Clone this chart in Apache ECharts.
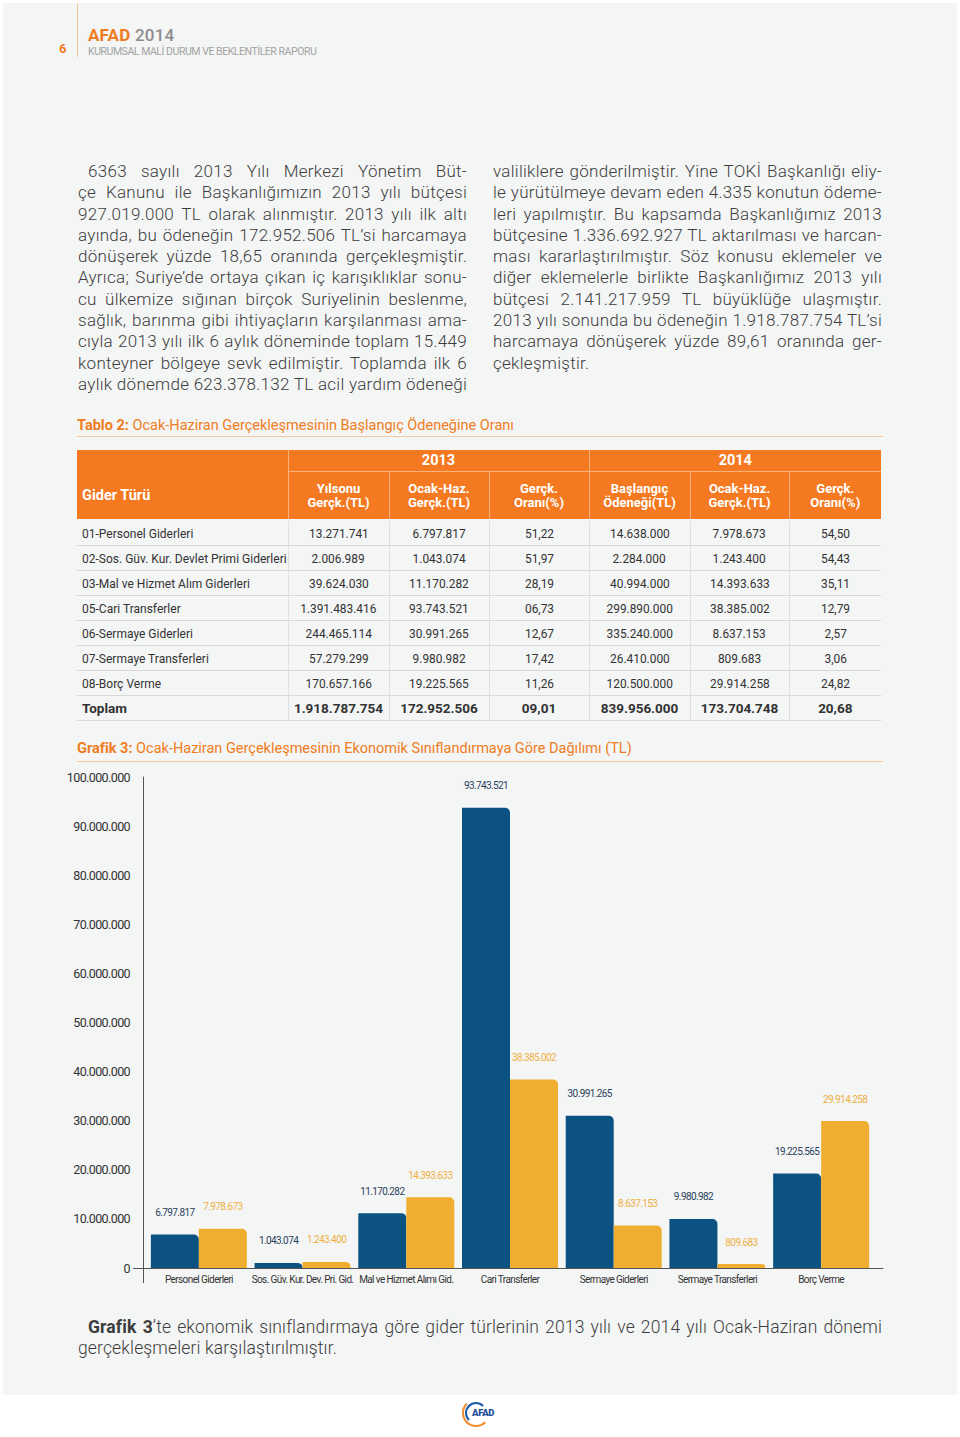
<!DOCTYPE html>
<html lang="tr">
<head>
<meta charset="utf-8">
<script src="https://cdn.jsdelivr.net/npm/echarts@6/dist/echarts.min.js"></script>
<style>
  html, body { margin: 0; padding: 0; background: #ffffff; }
  body { width: 960px; height: 1437px; position: relative; overflow: hidden; font-family: Roboto, "Noto Sans", sans-serif; }
  .panel { position: absolute; left: 3px; top: 3px; width: 954px; height: 1392px; background: #f4f5f5; }
  .vline { position: absolute; left: 77px; top: 3px; width: 1px; height: 54px; background: #f0c49a; }
  .pno { position: absolute; left: 59px; top: 41px; font-size: 13px; font-weight: 700; color: #f07c22; }
  .brand { position: absolute; left: 88px; top: 25px; font-size: 17px; font-weight: 700; color: #f07c22; letter-spacing: 0.2px; }
  .brand span { color: #8c8c8c; font-weight: 500; }
  .sub { position: absolute; left: 88px; top: 45px; font-size: 10.5px; color: #a3a3a3; font-weight: 400; letter-spacing: -0.45px; }
  .col { position: absolute; width: 389px; font-size: 17px; line-height: 21.3px; color: #3d3d3d; font-weight: 300; letter-spacing: 0.28px; }
  .col div { text-align: justify; text-align-last: justify; white-space: nowrap; }
  .col div.last { text-align-last: left; }
  .cap { position: absolute; left: 77px; font-size: 14.5px; color: #f07c22; font-weight: 400; }
  .cap b { font-weight: 700; }
  .capline { position: absolute; left: 77px; width: 806px; height: 1px; background: #f3c9a2; }
  table.t { position: absolute; left: 77px; top: 450px; border-collapse: collapse; table-layout: fixed; width: 804px;
            font-family: Roboto, sans-serif; font-size: 13.5px; color: #333; }
  table.t th { background: #f47920; color: #fff; font-weight: 700; border-left: 1px solid #f8b27a; padding: 0; }
  table.t th.first { text-align: left; padding-left: 5px; border-left: none; vertical-align: middle; padding-top: 21px; }
  table.t tr.h1 th { height: 21px; font-size: 14.5px; }
  table.t tr.h2 th { height: 47px; font-size: 13px; line-height: 14px; border-top: 1px solid #f8b27a; }
  table.t tr.gap td { height: 2px; padding: 0; border: none; }
  table.t td { height: 24px; padding: 0; text-align: center; border-bottom: 1px solid #d8d8d8; border-left: 1px solid #e0e0e0; white-space: nowrap; overflow: visible; }
  table.t td.first { text-align: left; padding-left: 5px; border-left: none; }
  table.t td span { display: inline-block; transform: scaleX(0.88); transform-origin: 50% 50%; }
  table.t td.first span { transform: scaleX(0.89); transform-origin: 0 50%; font-size: 13.5px; }
  table.t tr.tot td span { transform: none; font-weight: 700; }
  table.t tr.tot td.first span { transform: none; font-size: 13.5px; }
  #chart { position: absolute; left: 0; top: 765px; width: 960px; height: 530px; }
  #chart text { letter-spacing: -0.6px; }
  .bottom { position: absolute; left: 78px; top: 1317px; width: 804px; font-size: 17.5px; line-height: 21.3px; color: #3d3d3d; font-weight: 300; letter-spacing: 0.15px; }
  .bottom div { text-align: justify; text-align-last: justify; white-space: nowrap; }
  .bottom div.last { text-align-last: left; }
  .bottom b { font-weight: 700; }
  .logo { position: absolute; left: 462px; top: 1399px; width: 34px; height: 30px; }
  .logo .a1 { position: absolute; left: 0; top: 0; width: 28px; height: 28px; border-radius: 50%; border: 2px solid transparent; border-left-color: #f08a2a; border-bottom-color: #f08a2a; box-sizing: border-box; }
  .logo .a2 { position: absolute; left: 3px; top: 3px; width: 22px; height: 22px; border-radius: 50%; border: 2px solid transparent; border-left-color: #1d5ca8; border-top-color: #1d5ca8; box-sizing: border-box; }
  .logo .tx { position: absolute; left: 10px; top: 8px; font-size: 9.5px; font-weight: 900; color: #1d4f9c; letter-spacing: -0.3px; }
</style>
</head>
<body>
<div class="panel"></div>
<div class="vline"></div>
<div class="pno">6</div>
<div class="brand">AFAD <span>2014</span></div>
<div class="sub">KURUMSAL MALİ DURUM VE BEKLENTİLER RAPORU</div>

<div class="col" style="left:78px; top:161px;">
  <div style="padding-left:10px;">6363 sayılı 2013 Yılı Merkezi Yönetim Büt-</div>
  <div>çe Kanunu ile Başkanlığımızın 2013 yılı bütçesi</div>
  <div>927.019.000 TL olarak alınmıştır. 2013 yılı ilk altı</div>
  <div>ayında, bu ödeneğin 172.952.506 TL’si harcamaya</div>
  <div>dönüşerek yüzde 18,65 oranında gerçekleşmiştir.</div>
  <div>Ayrıca; Suriye’de ortaya çıkan iç karışıklıklar sonu-</div>
  <div>cu ülkemize sığınan birçok Suriyelinin beslenme,</div>
  <div>sağlık, barınma gibi ihtiyaçların karşılanması ama-</div>
  <div>cıyla 2013 yılı ilk 6 aylık döneminde toplam 15.449</div>
  <div>konteyner bölgeye sevk edilmiştir. Toplamda ilk 6</div>
  <div>aylık dönemde 623.378.132 TL acil yardım ödeneği</div>
</div>
<div class="col" style="left:493px; top:161px;">
  <div>valiliklere gönderilmiştir. Yine TOKİ Başkanlığı eliy-</div>
  <div>le yürütülmeye devam eden 4.335 konutun ödeme-</div>
  <div>leri yapılmıştır. Bu kapsamda Başkanlığımız 2013</div>
  <div>bütçesine 1.336.692.927 TL aktarılması ve harcan-</div>
  <div>ması kararlaştırılmıştır. Söz konusu eklemeler ve</div>
  <div>diğer eklemelerle birlikte Başkanlığımız 2013 yılı</div>
  <div>bütçesi 2.141.217.959 TL büyüklüğe ulaşmıştır.</div>
  <div>2013 yılı sonunda bu ödeneğin 1.918.787.754 TL’si</div>
  <div>harcamaya dönüşerek yüzde 89,61 oranında ger-</div>
  <div class="last">çekleşmiştir.</div>
</div>

<div class="cap" style="top:417px;"><b>Tablo 2:</b> Ocak-Haziran Gerçekleşmesinin Başlangıç Ödeneğine Oranı</div>
<div class="capline" style="top:436px;"></div>

<table class="t" id="tbl">
  <colgroup>
    <col style="width:211px"><col style="width:101px"><col style="width:100px"><col style="width:100px"><col style="width:101px"><col style="width:99px"><col style="width:92px">
  </colgroup>
  <thead>
    <tr class="h1"><th class="first" rowspan="2">Gider Türü</th><th colspan="3">2013</th><th colspan="3">2014</th></tr>
    <tr class="h2" id="hdr2"></tr>
  </thead>
  <tbody id="tbody"></tbody>
</table>

<div class="cap" style="top:740px;"><b>Grafik 3:</b> Ocak-Haziran Gerçekleşmesinin Ekonomik Sınıflandırmaya Göre Dağılımı (TL)</div>
<div class="capline" style="top:761px;"></div>

<div id="chart"></div>

<div class="bottom">
  <div style="padding-left:10px;"><b>Grafik 3</b>’te ekonomik sınıflandırmaya göre gider türlerinin 2013 yılı ve 2014 yılı Ocak-Haziran dönemi</div>
  <div class="last">gerçekleşmeleri karşılaştırılmıştır.</div>
</div>

<div class="logo"><div class="a1"></div><div class="a2"></div><div class="tx">AFAD</div></div>

<script>
// ---- Table data ----
const tableHeaders = ['Yılsonu<br>Gerçk.(TL)', 'Ocak-Haz.<br>Gerçk.(TL)', 'Gerçk.<br>Oranı(%)', 'Başlangıç<br>Ödeneği(TL)', 'Ocak-Haz.<br>Gerçk.(TL)', 'Gerçk.<br>Oranı(%)'];
const tableRowNames = ['01-Personel Giderleri', '02-Sos. Güv. Kur. Devlet Primi Giderleri', '03-Mal ve Hizmet Alım Giderleri', '05-Cari Transferler', '06-Sermaye Giderleri', '07-Sermaye Transferleri', '08-Borç Verme', 'Toplam'];
const colYilsonu2013 = ['13.271.741', '2.006.989', '39.624.030', '1.391.483.416', '244.465.114', '57.279.299', '170.657.166', '1.918.787.754'];
const colOcakHaz2013 = ['6.797.817', '1.043.074', '11.170.282', '93.743.521', '30.991.265', '9.980.982', '19.225.565', '172.952.506'];
const colOran2013 = ['51,22', '51,97', '28,19', '06,73', '12,67', '17,42', '11,26', '09,01'];
const colBaslangic2014 = ['14.638.000', '2.284.000', '40.994.000', '299.890.000', '335.240.000', '26.410.000', '120.500.000', '839.956.000'];
const colOcakHaz2014 = ['7.978.673', '1.243.400', '14.393.633', '38.385.002', '8.637.153', '809.683', '29.914.258', '173.704.748'];
const colOran2014 = ['54,50', '54,43', '35,11', '12,79', '2,57', '3,06', '24,82', '20,68'];

// ---- Chart data ----
const categories = ['Personel Giderleri', 'Sos. Güv. Kur. Dev. Pri. Gid.', 'Mal ve Hizmet Alımı Gid.', 'Cari Transferler', 'Sermaye Giderleri', 'Sermaye Transferleri', 'Borç Verme'];
const values2013 = [6797817, 1043074, 11170282, 93743521, 30991265, 9980982, 19225565];
const values2014 = [7978673, 1243400, 14393633, 38385002, 8637153, 809683, 29914258];
const yMin = 0, yMax = 100000000, yInterval = 10000000;

// build table
document.getElementById('hdr2').innerHTML = tableHeaders.map(h => '<th>' + h + '</th>').join('');
const cols = [colYilsonu2013, colOcakHaz2013, colOran2013, colBaslangic2014, colOcakHaz2014, colOran2014];
let html = '<tr class="gap"><td colspan="7"></td></tr>';
tableRowNames.forEach((name, i) => {
  const cls = i === tableRowNames.length - 1 ? ' class="tot"' : '';
  html += '<tr' + cls + '><td class="first"><span>' + name + '</span></td>' + cols.map(c => '<td><span>' + c[i] + '</span></td>').join('') + '</tr>';
});
document.getElementById('tbody').innerHTML = html;

function fmt(v) {
  return String(Math.round(v)).replace(/\B(?=(\d{3})+(?!\d))/g, '.');
}

const chart = echarts.init(document.getElementById('chart'), null, { renderer: 'svg' });
chart.setOption({
  animation: false,
  backgroundColor: 'transparent',
  textStyle: { fontFamily: 'Roboto, sans-serif' },
  grid: [
    { left: 143, right: 77, top: 12, bottom: 27 },
    { left: 147, right: 87, top: 12, bottom: 27 }
  ],
  xAxis: [
    { type: 'value', gridIndex: 0, min: 0, max: 1, interval: 1,
      axisLine: { show: true, lineStyle: { color: '#555', width: 1 } },
      axisTick: { show: true, length: 15, customValues: [0], lineStyle: { color: '#555', width: 1 } },
      axisLabel: { show: false }, splitLine: { show: false } },
    { type: 'category', gridIndex: 1, data: categories, axisLine: { show: false }, axisTick: { show: false },
      axisLabel: { color: '#333', fontSize: 10, margin: 6, interval: 0 } }
  ],
  yAxis: [
    { type: 'value', gridIndex: 0, min: yMin, max: yMax, interval: yInterval,
      axisLine: { show: true, lineStyle: { color: '#555', width: 1 } },
      axisTick: { show: true, length: 10, customValues: [0], lineStyle: { color: '#555', width: 1 } },
      axisLabel: { color: '#333', fontSize: 12.5, margin: 13, formatter: v => fmt(v) },
      splitLine: { lineStyle: { color: '#c9c9c9', width: 1 } } },
    { type: 'value', gridIndex: 1, min: yMin, max: yMax, interval: yInterval, show: false, splitLine: { show: false } }
  ],
  series: [
    { type: 'bar', name: '2013', xAxisIndex: 1, yAxisIndex: 1, data: values2013, barWidth: 48, barGap: '0%',
      itemStyle: { color: '#0b5282', borderRadius: [0, 5, 0, 0] },
      label: { show: true, position: 'top', distance: 17, color: '#2b4260', fontSize: 10, formatter: p => fmt(p.value) } },
    { type: 'bar', name: '2014', xAxisIndex: 1, yAxisIndex: 1, data: values2014, barWidth: 48, barGap: '0%',
      itemStyle: { color: '#f0ae30', borderRadius: [0, 5, 0, 0] },
      label: { show: true, position: 'top', distance: 17, color: '#efb03f', fontSize: 10, formatter: p => fmt(p.value) } }
  ]
});
</script>
</body>
</html>
